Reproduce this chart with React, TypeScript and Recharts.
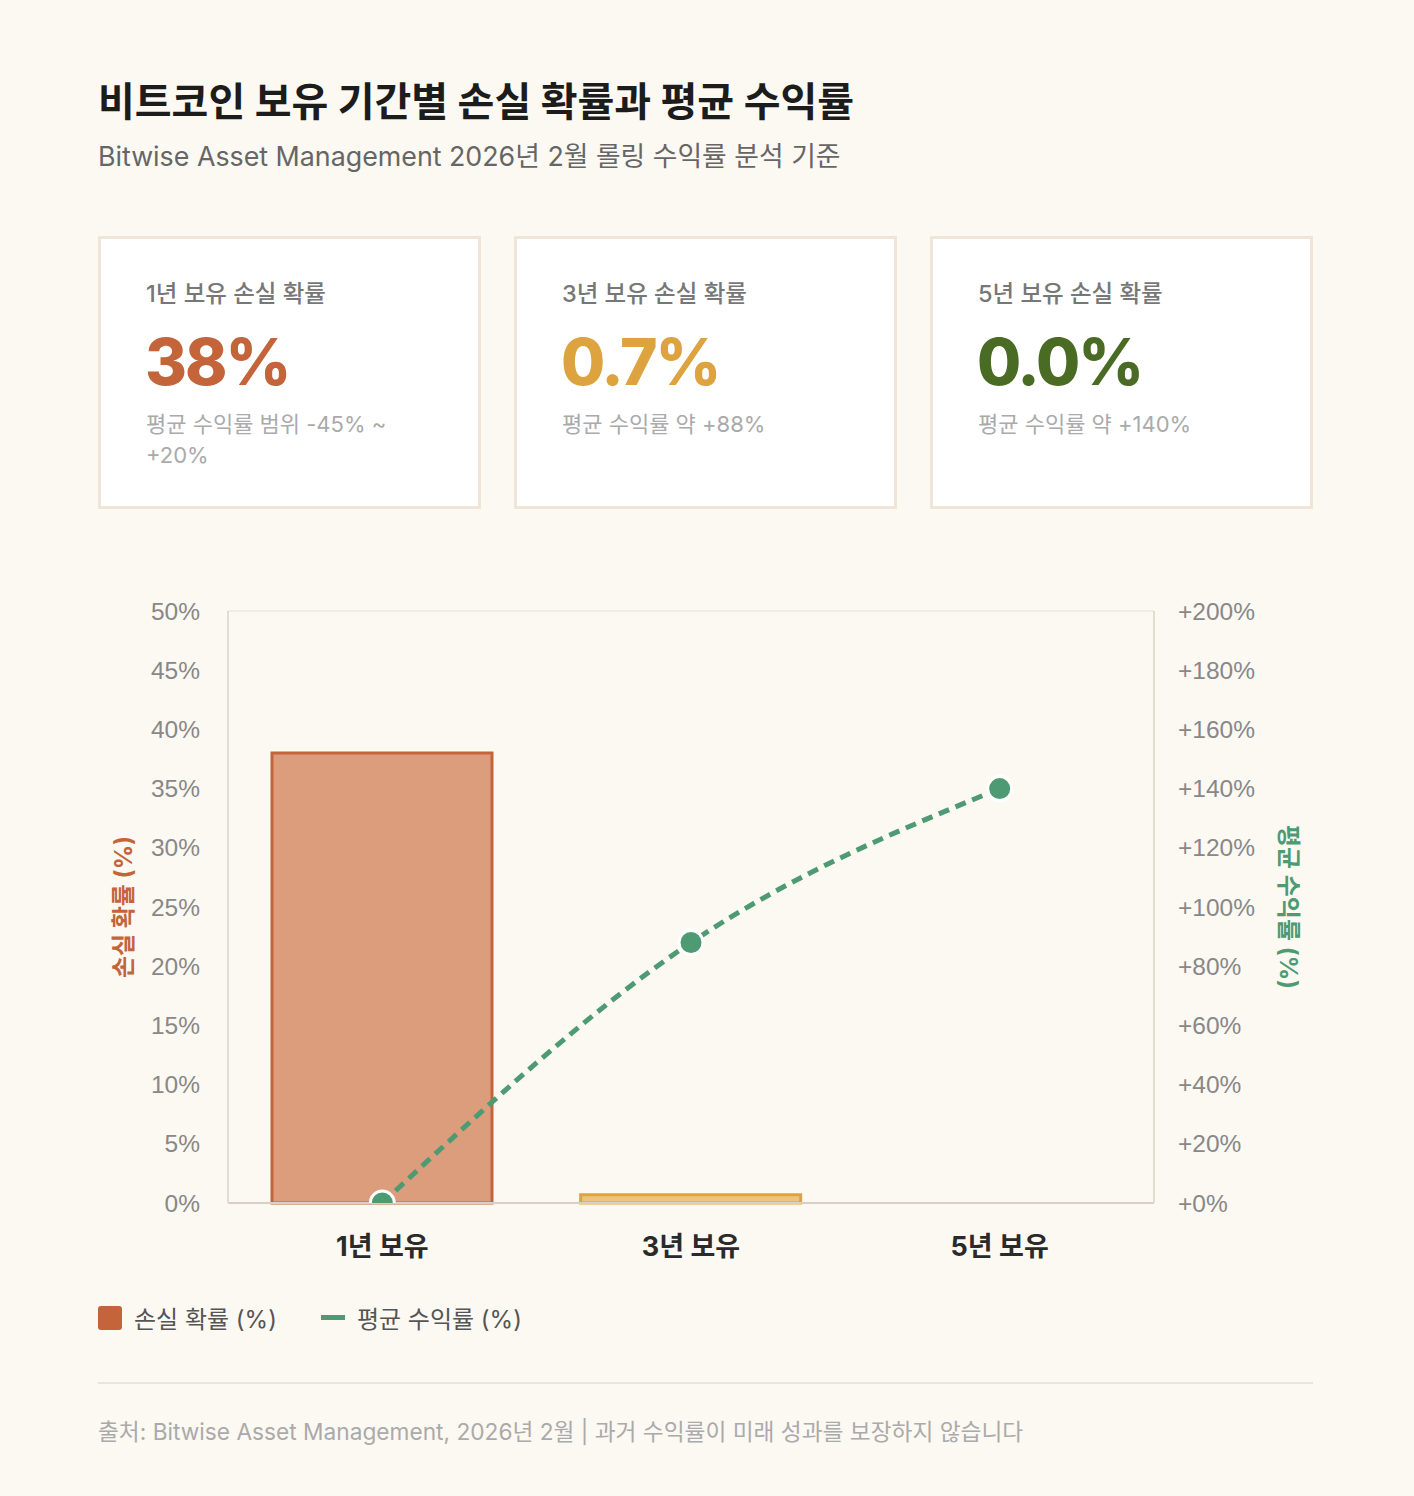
import React from "react";
import {
  ComposedChart,
  Bar,
  Line,
  Cell,
  XAxis,
  YAxis,
  CartesianGrid,
  Legend,
} from "recharts";

const periods = ["1년 보유", "3년 보유", "5년 보유"];
const lossProb = [38, 0.7, 0];
const avgReturn = [0, 88, 140];
const lossTicks = [0, 5, 10, 15, 20, 25, 30, 35, 40, 45, 50];
const returnTicks = [0, 20, 40, 60, 80, 100, 120, 140, 160, 180, 200];

const cardLabels = ["1년 보유 손실 확률", "3년 보유 손실 확률", "5년 보유 손실 확률"];
const cardValues = ["38%", "0.7%", "0.0%"];
const cardNotes = [["평균 수익률 범위 -45% ~", "+20%"], ["평균 수익률 약 +88%"], ["평균 수익률 약 +140%"]];

const BG = "#FCF8F2";
const ORANGE = "#C4643B";
const GREEN = "#4E9A72";
const barFills = ["#DC9D7D", "#EBC47E", "#9CC6AE"];
const barStrokes = [ORANGE, "#DDA33F", GREEN];
const cardColors = [ORANGE, "#DDA33F", "#4A6B24"];

const FONT = "Inter, 'Noto Sans CJK KR', sans-serif";
const TICK_FONT = "'Liberation Sans', Arial, sans-serif";

const data = periods.map((p, i) => ({
  name: p,
  loss: lossProb[i],
  ret: avgReturn[i],
}));

function ReturnDot(props: any) {
  const { cx, cy, index } = props;
  if (cx == null || cy == null) return null;
  return <circle key={`dot-${index}`} cx={cx} cy={cy} r={12} fill={GREEN} stroke="#fff" strokeWidth={3} strokeDasharray="0" />;
}

function LegendBox() {
  return (
    <div style={{ display: "flex", alignItems: "center", paddingTop: 37, fontFamily: FONT, fontSize: 24, color: "#555" }}>
      <span style={{ width: 24, height: 24, background: ORANGE, borderRadius: 3, display: "inline-block", marginRight: 12 }} />
      <span>손실 확률 (%)</span>
      <span style={{ width: 24, height: 5, background: GREEN, display: "inline-block", marginLeft: 44, marginRight: 12 }} />
      <span>평균 수익률 (%)</span>
    </div>
  );
}

export default function App() {
  return (
    <div style={{ position: "absolute", left: 0, top: 0, width: 1414, height: 1496, background: BG, fontFamily: FONT, overflow: "hidden" }}>
      <div style={{ position: "absolute", left: 98, top: 70, fontSize: 40, fontWeight: 700, color: "#1c1c1c" }}>
        비트코인 보유 기간별 손실 확률과 평균 수익률
      </div>
      <div style={{ position: "absolute", left: 98, top: 135, fontSize: 26.8, color: "#666" }}>
        Bitwise Asset Management 2026년 2월 롤링 수익률 분석 기준
      </div>

      {cardLabels.map((label, i) => (
        <div
          key={label}
          style={{
            position: "absolute",
            left: 98 + i * 416,
            top: 236,
            width: 383,
            height: 273,
            boxSizing: "border-box",
            border: "3px solid #EFE5D8",
            background: "#fff",
          }}
        >
          <div style={{ position: "absolute", left: 45, top: 36, fontSize: 23.5, fontWeight: 500, color: "#777" }}>{label}</div>
          <div style={{ position: "absolute", left: 44, top: 84, fontSize: 64, fontWeight: 800, color: cardColors[i], letterSpacing: -2 }}>
            {cardValues[i]}
          </div>
          <div style={{ position: "absolute", left: 45, top: 170, fontSize: 22, color: "#AAA", lineHeight: "31px" }}>
            {cardNotes[i].map((t) => (
              <div key={t}>{t}</div>
            ))}
          </div>
        </div>
      ))}

      <div style={{ position: "absolute", left: 98, top: 590 }}>
        <ComposedChart width={1215} height={770} data={data} margin={{ top: 21, right: 0, bottom: 0, left: 0 }}>
          <CartesianGrid stroke="#EFE8DF" strokeWidth={1.5} vertical={false} />
          <XAxis
            dataKey="name"
            height={60}
            tickLine={false}
            axisLine={{ stroke: "#D8D0C7", strokeWidth: 2 }}
            tick={{ fill: "#2a2a2a", fontSize: 27, fontWeight: 700, fontFamily: FONT }}
            tickMargin={28}
          />
          <YAxis
            yAxisId="left"
            domain={[0, 50]}
            ticks={lossTicks}
            tickFormatter={(v) => `${v}%`}
            width={130}
            tickLine={false}
            axisLine={{ stroke: "#E3DCD3", strokeWidth: 2 }}
            tick={{ fill: "#888", fontSize: 24.5, fontFamily: TICK_FONT }}
            tickMargin={22}
            label={{
              content: (p: any) => {
                const vb = p.viewBox;
                const x = vb.x + 25;
                const y = vb.y + vb.height / 2;
                return (
                  <text x={x} y={y} transform={`rotate(-90 ${x} ${y})`} textAnchor="middle" dominantBaseline="central" fill={ORANGE} fontSize={24} fontWeight={700} fontFamily={FONT}>
                    손실 확률 (%)
                  </text>
                );
              },
            }}
          />
          <YAxis
            yAxisId="right"
            orientation="right"
            domain={[0, 200]}
            allowDataOverflow
            ticks={returnTicks}
            tickFormatter={(v) => `+${v}%`}
            width={159}
            tickLine={false}
            axisLine={{ stroke: "#E3DCD3", strokeWidth: 2 }}
            tick={{ fill: "#888", fontSize: 24.5, fontFamily: TICK_FONT }}
            tickMargin={18}
            label={{
              content: (p: any) => {
                const vb = p.viewBox;
                const x = vb.x + 134;
                const y = vb.y + vb.height / 2;
                return (
                  <text x={x} y={y} transform={`rotate(90 ${x} ${y})`} textAnchor="middle" dominantBaseline="central" fill={GREEN} fontSize={24} fontWeight={700} fontFamily={FONT}>
                    평균 수익률 (%)
                  </text>
                );
              },
            }}
          />
          <Legend verticalAlign="bottom" align="left" height={97} content={() => <LegendBox />} />
          <Bar yAxisId="left" dataKey="loss" barSize={220} isAnimationActive={false} strokeWidth={3}>
            {data.map((d, i) => (
              <Cell key={d.name} fill={barFills[i]} stroke={barStrokes[i]} />
            ))}
          </Bar>
          <Line
            yAxisId="right"
            type="monotone"
            dataKey="ret"
            stroke={GREEN}
            strokeWidth={5}
            strokeDasharray="11 7"
            dot={<ReturnDot />}
            activeDot={false}
            isAnimationActive={false}
          />
        </ComposedChart>
      </div>

      <div style={{ position: "absolute", left: 98, top: 1382, width: 1215, height: 2, background: "#ECE4DA" }} />
      <div style={{ position: "absolute", left: 98, top: 1414, fontSize: 22.7, color: "#AAA" }}>
        출처: Bitwise Asset Management, 2026년 2월 | 과거 수익률이 미래 성과를 보장하지 않습니다
      </div>
    </div>
  );
}
